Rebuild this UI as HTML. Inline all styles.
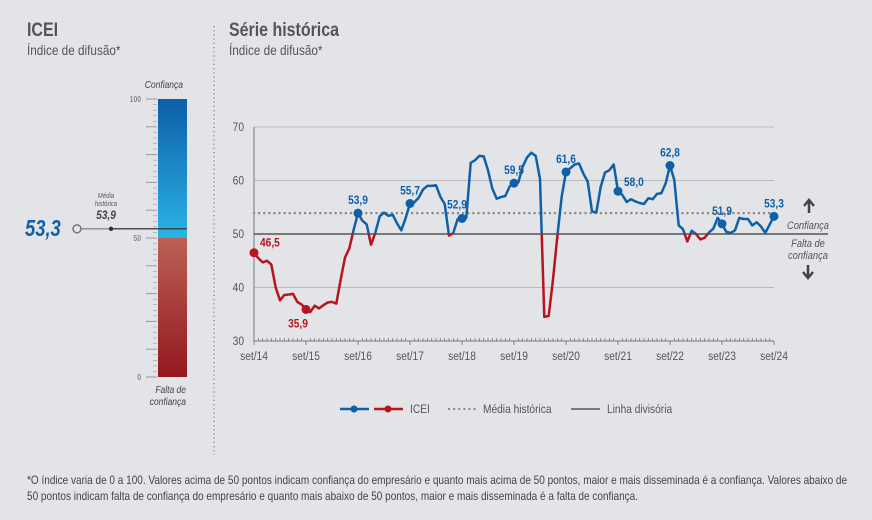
<!DOCTYPE html>
<html><head><meta charset="utf-8">
<style>
body{margin:0;width:872px;height:520px;background:#e3e4e8;font-family:"Liberation Sans Narrow","Liberation Sans",sans-serif;color:#444;overflow:hidden;position:relative}
.t{position:absolute;white-space:nowrap;transform-origin:0 0;transform:scaleX(0.84)}
</style></head>
<body>
<div class="t" style="left:27px;top:20px;font-size:19px;font-weight:bold;color:#555">ICEI</div>
<div class="t" style="left:27px;top:42px;font-size:14px;color:#555">Índice de difusão*</div>
<div class="t" style="left:229px;top:20px;font-size:19px;font-weight:bold;color:#555">Série histórica</div>
<div class="t" style="left:229px;top:42px;font-size:14px;color:#555">Índice de difusão*</div>
<div class="t" style="left:27px;top:472px;font-size:12px;color:#444;line-height:16px;white-space:normal;width:990px;transform:scaleX(0.835)">*O índice varia de 0 a 100. Valores acima de 50 pontos indicam confiança do empresário e quanto mais acima de 50 pontos, maior e mais disseminada é a confiança. Valores abaixo de 50 pontos indicam falta de confiança do empresário e quanto mais abaixo de 50 pontos, maior e mais disseminada é a falta de confiança.</div>

<svg width="872" height="520" style="position:absolute;left:0;top:0" font-family="Liberation Sans Narrow, Liberation Sans, sans-serif">
<defs>
<linearGradient id="gb" x1="0" y1="0" x2="0" y2="1"><stop offset="0" stop-color="#0d5ea6"/><stop offset="1" stop-color="#2ab4e6"/></linearGradient>
<linearGradient id="gr" x1="0" y1="0" x2="0" y2="1"><stop offset="0" stop-color="#bb6055"/><stop offset="1" stop-color="#94181f"/></linearGradient>
</defs>
<line x1="214" y1="26" x2="214" y2="455" stroke="#666" stroke-dasharray="1.2,3"/>
<g id="gauge"></g>
<g id="chart"></g>
</svg>
<script>
const NS="http://www.w3.org/2000/svg";
function mk(p,tag,a,txt){const e=document.createElementNS(NS,tag);for(const k in a)e.setAttribute(k,a[k]);if(txt!==undefined)e.textContent=txt;p.appendChild(e);return e;}
function nt(p,x,y,a,txt,sx){const s=sx||0.85;const e=mk(p,'text',Object.assign({x:x/s,y:y,transform:'scale('+s+',1)'},a),txt);return e;}
const currentValue=53.3;
const historicalMean=53.9;
const xLabels=["set/14","set/15","set/16","set/17","set/18","set/19","set/20","set/21","set/22","set/23","set/24"];
const yTicks=[30,40,50,60,70];
const icei=[46.5,45.5,44.7,45,44.3,40,37.6,38.6,38.7,38.8,37.3,36.8,
35.9,35.4,36.6,36.1,36.7,37.2,37.3,37,41.5,45.6,47.3,50.8,
53.9,52.5,51.8,48,50.2,53.3,54,53.4,53.6,52,50.7,53,
55.7,55.9,56.8,58.3,59,59,59.1,57,55.6,49.7,50.2,52.8,
52.9,53,63.3,63.8,64.6,64.5,61.9,58.5,56.6,56.9,57.1,58.9,
59.5,59.6,62.6,64.3,65.2,64.6,60.3,34.5,34.7,41.5,49.5,57,
61.6,62.3,63,63.2,61.3,59.8,54.2,54,58.8,61.5,61.9,63,
58,57.3,56,56.5,56.1,55.8,55.6,56.7,56.5,57.5,57.6,59.5,
62.8,60.1,51.6,50.9,48.6,50.6,50,49,49.3,50.3,51,53,
51.9,50.4,50.2,50.7,53,52.8,52.8,51.6,52.2,51.4,50.2,51.8,53.3];
const labelIdx=[0,12,24,36,48,60,72,84,96,108,120];
const labelVals=["46,5","35,9","53,9","55,7","52,9","59,5","61,6","58,0","62,8","51,9","53,3"];

// gauge
const g=document.getElementById('gauge');
const gy=v=>377-v*2.78;
mk(g,'rect',{x:158,y:gy(100),width:29,height:gy(50)-gy(100),fill:'url(#gb)'});
mk(g,'rect',{x:158,y:gy(50),width:29,height:gy(0)-gy(50),fill:'url(#gr)'});
for(let v=0;v<=100;v+=2){const big=v%10==0;mk(g,'line',{x1:big?146:153,x2:157,y1:gy(v),y2:gy(v),stroke:'#999','stroke-width':big?1:0.6});}
[0,50,100].forEach(v=>nt(g,141,gy(v)+3,{'text-anchor':'end','font-size':8,fill:'#888','font-weight':'bold'},v));
nt(g,183,88,{'text-anchor':'end','font-size':10,'font-style':'italic',fill:'#444'},'Confiança');
nt(g,186,393,{'text-anchor':'end','font-size':10,'font-style':'italic',fill:'#444'},'Falta de');
nt(g,186,405,{'text-anchor':'end','font-size':10,'font-style':'italic',fill:'#444'},'confiança');
const cy=gy(currentValue);
mk(g,'line',{x1:81,x2:187,y1:cy,y2:cy,stroke:'#777','stroke-width':1.2});
mk(g,'line',{x1:111,x2:187,y1:cy,y2:cy,stroke:'#333','stroke-width':1.2});
mk(g,'circle',{cx:77,cy:cy,r:4,fill:'#e3e4e8',stroke:'#777','stroke-width':1.5});
mk(g,'circle',{cx:111,cy:cy,r:2.2,fill:'#333'});
nt(g,25,cy+7,{'font-size':23,'font-weight':'bold','font-style':'italic',fill:'#1060a8'},String(currentValue).replace('.',','),0.8);
nt(g,106,198,{'text-anchor':'middle','font-size':7,'font-style':'italic',fill:'#555'},'Média');
nt(g,106,206,{'text-anchor':'middle','font-size':7,'font-style':'italic',fill:'#555'},'histórica');
nt(g,106,219,{'text-anchor':'middle','font-size':12,'font-weight':'bold','font-style':'italic',fill:'#444'},String(historicalMean).replace('.',','));

// chart
const c=document.getElementById('chart');
const X0=254,X1=774;
const xs=i=>X0+(X1-X0)*i/120;
const ys=v=>341-(v-30)*(214/40);
yTicks.forEach(v=>{
 if(v!==30&&v!==50)mk(c,'line',{x1:X0,x2:X1,y1:ys(v),y2:ys(v),stroke:'#bbb'});
 const t=nt(c,X0-10,ys(v)+4,{'text-anchor':'end','font-size':12,fill:'#555'},v);
 
});
mk(c,'line',{x1:X0,x2:X0,y1:ys(70),y2:ys(30),stroke:'#777'});
mk(c,'line',{x1:X0,x2:X1,y1:ys(30),y2:ys(30),stroke:'#777'});
for(let i=0;i<=120;i++)mk(c,'line',{x1:xs(i),x2:xs(i),y1:ys(30)-(i%12==0?0:3),y2:ys(30)+(i%12==0?4:0),stroke:'#777','stroke-width':0.8});
xLabels.forEach((l,k)=>{const t=nt(c,xs(k*12),360,{'text-anchor':'middle','font-size':12,fill:'#555'},l);});
mk(c,'line',{x1:X0,x2:828,y1:ys(50),y2:ys(50),stroke:'#555','stroke-width':1.5});
mk(c,'line',{x1:X0,x2:X1,y1:ys(historicalMean),y2:ys(historicalMean),stroke:'#888','stroke-width':2.4,'stroke-dasharray':'0.1,5','stroke-linecap':'round'});
const defs=mk(c,'defs',{});
const ca=mk(defs,'clipPath',{id:'above'});mk(ca,'rect',{x:0,y:0,width:872,height:ys(50)});
const cb=mk(defs,'clipPath',{id:'below'});mk(cb,'rect',{x:0,y:ys(50),width:872,height:300});
const d=icei.map((v,i)=>(i?'L':'M')+xs(i).toFixed(1)+','+ys(v).toFixed(1)).join('');
const l1=mk(c,'path',{d:d,fill:'none',stroke:'#1060a8','stroke-width':2.5,'stroke-linejoin':'round','clip-path':'url(#above)'});

const l2=mk(c,'path',{d:d,fill:'none',stroke:'#b8141e','stroke-width':2.5,'stroke-linejoin':'round','clip-path':'url(#below)'});

labelIdx.forEach((i,k)=>{
 const v=icei[i],col=v<50?'#b8141e':'#1060a8';
 const p=mk(c,'circle',{cx:xs(i),cy:ys(v),r:4.5,fill:col});
 
 let lx=xs(i),ly=ys(v)-9,anc='middle';
 if(i===0){lx+=6;ly=ys(v)-6;anc='start';}
 if(i===12){ly=ys(v)+18;lx-=8;}
 if(i===84){lx+=6;ly=ys(v)-5;anc='start';}
 if(i===48){lx-=5;ly=ys(v)-10;}
 const t=nt(c,lx,ly,{'text-anchor':anc,'font-size':12,'font-weight':'bold',fill:col},labelVals[k]);
 
});
// side annotations
mk(c,'path',{d:'M809,213 V201 M804,206 L809,200 L814,206',stroke:'#444','stroke-width':2.5,fill:'none'});
nt(c,808,229,{'text-anchor':'middle','font-size':11,'font-style':'italic',fill:'#555'},'Confiança');
nt(c,808,247,{'text-anchor':'middle','font-size':11,'font-style':'italic',fill:'#555'},'Falta de');
nt(c,808,259,{'text-anchor':'middle','font-size':11,'font-style':'italic',fill:'#555'},'confiança');
mk(c,'path',{d:'M808,265 V277 M803,272 L808,278 L813,272',stroke:'#444','stroke-width':2.5,fill:'none'});
// legend
const lg=mk(c,'g',{});
mk(lg,'line',{x1:340,x2:369,y1:409,y2:409,stroke:'#1060a8','stroke-width':2.5});mk(lg,'circle',{cx:354,cy:409,r:3.5,fill:'#1060a8'});
mk(lg,'line',{x1:374,x2:403,y1:409,y2:409,stroke:'#b8141e','stroke-width':2.5});mk(lg,'circle',{cx:388,cy:409,r:3.5,fill:'#b8141e'});
nt(lg,410,413,{'font-size':12,fill:'#555'},'ICEI');
mk(lg,'line',{x1:449,x2:477,y1:409,y2:409,stroke:'#888','stroke-width':2.2,'stroke-dasharray':'0.1,5','stroke-linecap':'round'});
nt(lg,483,413,{'font-size':12,fill:'#555'},'Média histórica');
mk(lg,'line',{x1:571,x2:600,y1:409,y2:409,stroke:'#555','stroke-width':1.5});
nt(lg,607,413,{'font-size':12,fill:'#555'},'Linha divisória');
</script>
</body></html>
